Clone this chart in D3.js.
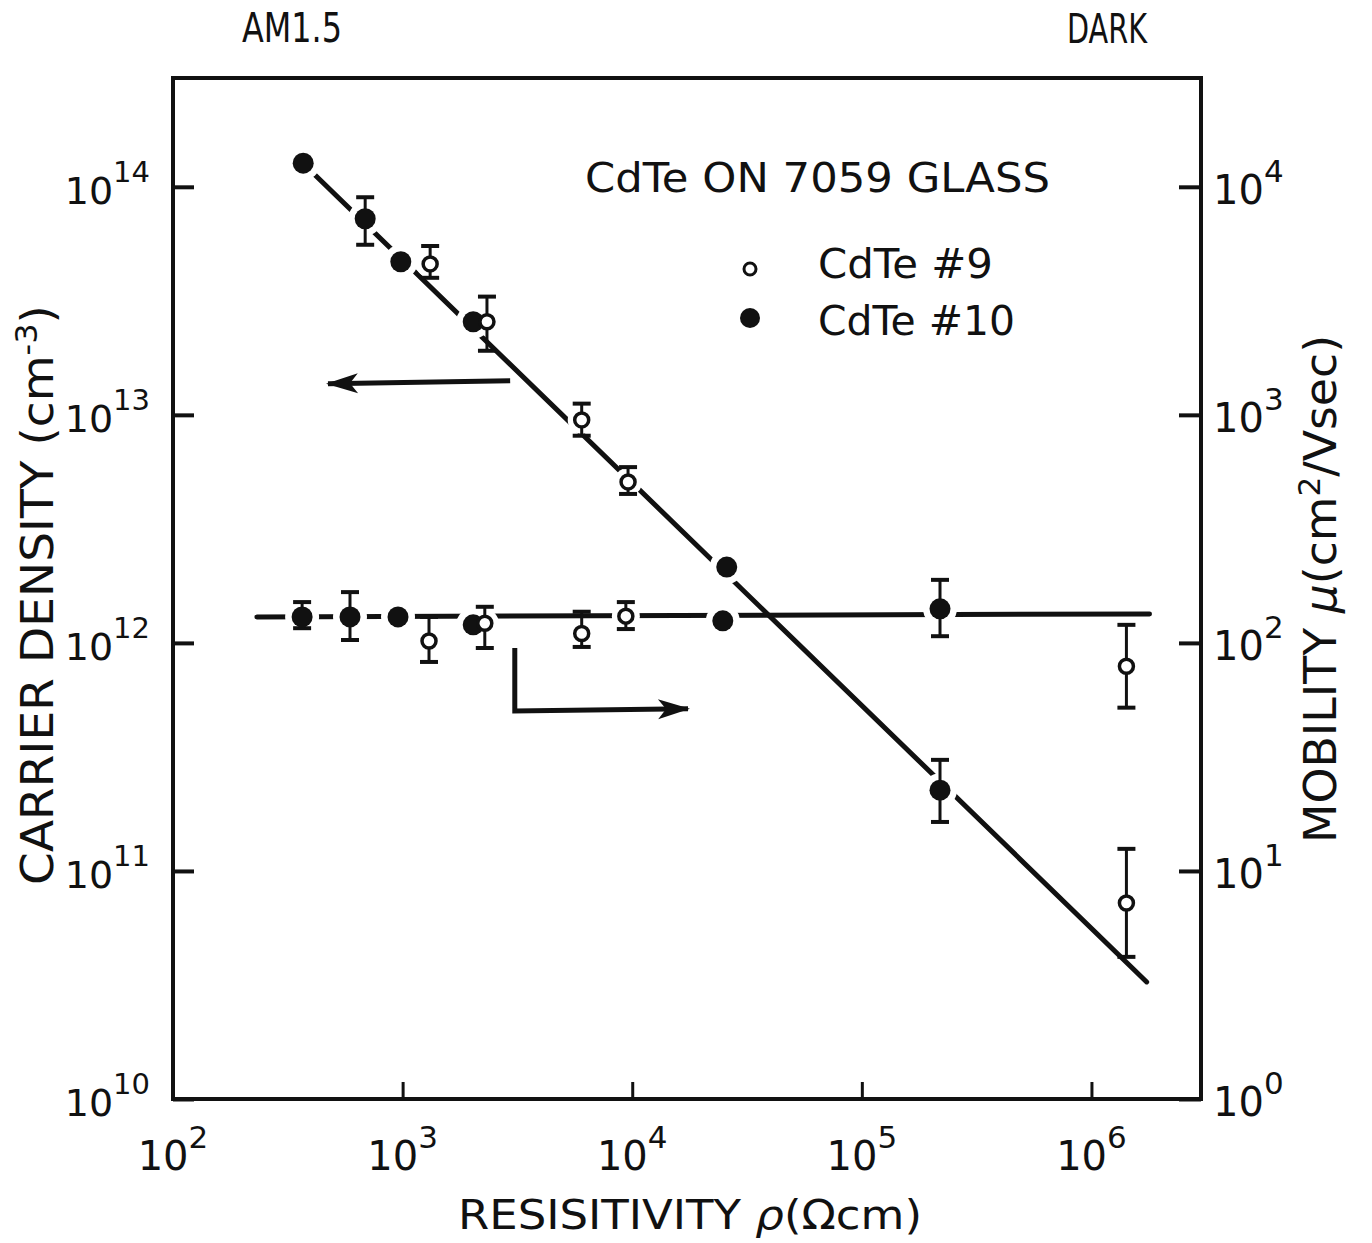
<!DOCTYPE html>
<html>
<head>
<meta charset="utf-8">
<script src="https://cdn.jsdelivr.net/npm/d3@7"></script>
<style>
body { margin: 0; background: #fff; }
svg { display: block; background: #fff; }
text { font-family: "DejaVu Sans", sans-serif; fill: #111; }
</style>
</head>
<body>
<svg id="chart" width="1372" height="1243"></svg>
<script>
// ---- data ----
var rhoTicks = [1e2, 1e3, 1e4, 1e5, 1e6];
var densityTicks = [1e10, 1e11, 1e12, 1e13, 1e14];
var mobilityTicks = [1, 10, 100, 1000, 10000];

// carrier density, CdTe #10 (filled) and #9 (open)
var densityRho10 = [369, 687, 982, 2030, 25800, 219000];
var density10 = [1.27e14, 7.24e13, 4.69e13, 2.56e13, 2.15e12, 2.26e11];
var density10Hi = [null, 9.0e13, null, null, null, 3.07e11];
var density10Lo = [null, 5.57e13, null, null, null, 1.64e11];

var densityRho9 = [1318, 2330, 6025, 9590, 1420000];
var density9 = [4.59e13, 2.56e13, 9.5e12, 5.08e12, 7.24e10];
var density9Hi = [5.5e13, 3.3e13, 1.12e13, 5.9e12, 1.25e11];
var density9Lo = [3.99e13, 1.91e13, 8.1e12, 4.5e12, 4.2e10];

// mobility, CdTe #10 (filled) and #9 (open)
var mobilityRho10 = [365, 590, 955, 2030, 24800, 219000];
var mobility10 = [130, 130, 130, 120, 125, 141];
var mobility10Hi = [151, 167, null, null, null, 189];
var mobility10Lo = [116, 103, null, null, null, 107];

var mobilityRho9 = [1303, 2280, 6025, 9380, 1420000];
var mobility9 = [102, 122, 110, 131, 79];
var mobility9Hi = [130, 144, 137, 151, 120];
var mobility9Lo = [82.5, 95, 96, 115, 52];

// hand drawn fit lines
var densityFitRho = [407, 1740000];
var densityFit = [1.15e14, 3.26e10];
var mobilityFitRho = [232, 1790000];
var mobilityFit = [130, 134];

// arrows telling which axis each line belongs to
var leftArrowRho = [2940, 473];
var leftArrowN = [1.41e13, 1.37e13];
var rightArrowRho = [3080, 3080, 17500];
var rightArrowMu = [95, 50.3, 51.4];

// ---- layout ----
var W = 1372, H = 1243;
var margin = {top: 78, right: 171, bottom: 144, left: 173};
var svg = d3.select("#chart");

var x = d3.scaleLog().domain([100, 3e6]).range([margin.left, W - margin.right]);
var yN = d3.scaleLog().domain([1e10, 3e14]).range([H - margin.bottom, margin.top]);
var yMu = d3.scaleLog().domain([1, 3e4]).range([H - margin.bottom, margin.top]);

// arrow head
svg.append("defs").append("marker")
  .attr("id", "head")
  .attr("markerUnits", "userSpaceOnUse")
  .attr("viewBox", "-32 -12 34 24")
  .attr("markerWidth", 34).attr("markerHeight", 24)
  .attr("refX", 0).attr("refY", 0)
  .attr("orient", "auto")
  .append("path")
  .attr("d", "M2,0 L-30,-10 L-22,0 L-30,10 Z")
  .attr("fill", "#111");

// frame
svg.append("rect")
  .attr("x", x(100)).attr("y", yN(3e14))
  .attr("width", x(3e6) - x(100)).attr("height", yN(1e10) - yN(3e14))
  .attr("fill", "none").attr("stroke", "#111").attr("stroke-width", 4);

// axes, ticks pointing inward
function styleAxis(g, w) {
  g.select(".domain").remove();
  g.selectAll("line").attr("stroke", "#111").attr("stroke-width", w);
}
svg.append("g").attr("transform", "translate(0," + (H - margin.bottom) + ")")
  .call(d3.axisBottom(x).tickValues(rhoTicks).tickSize(-17).tickSizeOuter(0).tickFormat(""))
  .call(styleAxis, 3);
svg.append("g").attr("transform", "translate(" + margin.left + ",0)")
  .call(d3.axisLeft(yN).tickValues(densityTicks).tickSize(-21).tickSizeOuter(0).tickFormat(""))
  .call(styleAxis, 4);
svg.append("g").attr("transform", "translate(" + (W - margin.right) + ",0)")
  .call(d3.axisRight(yMu).tickValues(mobilityTicks).tickSize(-22).tickSizeOuter(0).tickFormat(""))
  .call(styleAxis, 4);

// 10^n labels
function powLabel(v, px, py, anchor, fs) {
  var t = svg.append("text")
    .attr("x", px).attr("y", py)
    .attr("text-anchor", anchor)
    .attr("font-family", "Liberation Sans")
    .attr("font-size", fs);
  t.append("tspan").text("10");
  t.append("tspan").attr("dy", -22).attr("font-size", fs - 9).text(Math.round(Math.log10(v)));
}
rhoTicks.forEach(function(v) { powLabel(v, x(v), H - margin.bottom + 71, "middle", 40); });
densityTicks.forEach(function(v) { powLabel(v, 150, yN(v) + 17, "end", 38); });
mobilityTicks.forEach(function(v) { powLabel(v, W - margin.right + 12, yMu(v) + 17, "start", 40); });

// axis titles
var bt = svg.append("text")
  .attr("x", 690).attr("y", 1229)
  .attr("text-anchor", "middle").attr("font-size", 41)
  .attr("textLength", 464).attr("lengthAdjust", "spacingAndGlyphs");
bt.append("tspan").text("RESISITIVITY ");
bt.append("tspan").attr("font-style", "italic").text("ρ");
bt.append("tspan").text("(Ωcm)");

var lt = svg.append("text")
  .attr("transform", "translate(53,595) rotate(-90)")
  .attr("text-anchor", "middle").attr("font-size", 44)
  .attr("textLength", 580).attr("lengthAdjust", "spacingAndGlyphs");
lt.append("tspan").text("CARRIER DENSITY (cm");
lt.append("tspan").attr("dy", -16).attr("font-size", 30).text("-3");
lt.append("tspan").attr("dy", 16).text(")");

var rt = svg.append("text")
  .attr("transform", "translate(1336,589) rotate(-90)")
  .attr("text-anchor", "middle").attr("font-size", 44)
  .attr("textLength", 508).attr("lengthAdjust", "spacingAndGlyphs");
rt.append("tspan").text("MOBILITY  ");
rt.append("tspan").attr("font-style", "italic").text("μ");
rt.append("tspan").text("(cm");
rt.append("tspan").attr("dy", -16).attr("font-size", 30).text("2");
rt.append("tspan").attr("dy", 16).text("/Vsec)");

// AM1.5 / DARK at the top
svg.append("text").attr("x", 242).attr("y", 42).attr("font-size", 40)
  .attr("font-family", "DejaVu Sans Mono")
  .attr("textLength", 100).attr("lengthAdjust", "spacingAndGlyphs").text("AM1.5");
svg.append("text").attr("x", 1067).attr("y", 43).attr("font-size", 40)
  .attr("font-family", "DejaVu Sans Mono")
  .attr("textLength", 80).attr("lengthAdjust", "spacingAndGlyphs").text("DARK");

// legend
svg.append("text").attr("x", 585).attr("y", 192).attr("font-size", 41)
  .attr("textLength", 465).attr("lengthAdjust", "spacingAndGlyphs").text("CdTe ON 7059 GLASS");
svg.append("circle").attr("cx", 750).attr("cy", 269).attr("r", 6)
  .attr("fill", "#fff").attr("stroke", "#111").attr("stroke-width", 3);
svg.append("text").attr("x", 818).attr("y", 278).attr("font-size", 41)
  .attr("textLength", 175).attr("lengthAdjust", "spacingAndGlyphs").text("CdTe #9");
svg.append("circle").attr("cx", 750).attr("cy", 318).attr("r", 10).attr("fill", "#111");
svg.append("text").attr("x", 818).attr("y", 335).attr("font-size", 41)
  .attr("textLength", 197).attr("lengthAdjust", "spacingAndGlyphs").text("CdTe #10");

// fit lines
var lineN = d3.line().x(function(d) { return x(d[0]); }).y(function(d) { return yN(d[1]); });
var lineMu = d3.line().x(function(d) { return x(d[0]); }).y(function(d) { return yMu(d[1]); });

svg.append("path").attr("d", lineN(d3.zip(densityFitRho, densityFit)))
  .attr("fill", "none").attr("stroke", "#111").attr("stroke-width", 5).attr("stroke-linecap", "round");
svg.append("path").attr("d", lineMu(d3.zip(mobilityFitRho, mobilityFit)))
  .attr("fill", "none").attr("stroke", "#111").attr("stroke-width", 5).attr("stroke-linecap", "round");

// arrows
svg.append("path").attr("d", lineN(d3.zip(leftArrowRho, leftArrowN)))
  .attr("fill", "none").attr("stroke", "#111").attr("stroke-width", 5).attr("marker-end", "url(#head)");
svg.append("path").attr("d", lineMu(d3.zip(rightArrowRho, rightArrowMu)))
  .attr("fill", "none").attr("stroke", "#111").attr("stroke-width", 5).attr("marker-end", "url(#head)");

// build point lists
function pts(rho, v, hi, lo, yScale, filled) {
  return rho.map(function(r, i) {
    return {x: x(r), y: yScale(v[i]),
            hi: hi[i] == null ? null : yScale(hi[i]),
            lo: lo[i] == null ? null : yScale(lo[i]),
            filled: filled};
  });
}
var allPts = [].concat(
  pts(densityRho10, density10, density10Hi, density10Lo, yN, true),
  pts(densityRho9, density9, density9Hi, density9Lo, yN, false),
  pts(mobilityRho10, mobility10, mobility10Hi, mobility10Lo, yMu, true),
  pts(mobilityRho9, mobility9, mobility9Hi, mobility9Lo, yMu, false)
);

// white halo so the hand drawn line stops short of the marks
svg.append("g").selectAll("circle").data(allPts).enter().append("circle")
  .attr("cx", function(d) { return d.x; }).attr("cy", function(d) { return d.y; })
  .attr("r", function(d) { return d.filled ? 17 : 14; })
  .attr("fill", "#fff");

// error bars
var eb = svg.append("g").selectAll("g").data(allPts.filter(function(d) { return d.hi != null; }))
  .enter().append("g").attr("stroke", "#111");
eb.append("line")
  .attr("x1", function(d) { return d.x; }).attr("x2", function(d) { return d.x; })
  .attr("y1", function(d) { return d.hi; }).attr("y2", function(d) { return d.lo; })
  .attr("stroke-width", 3);
eb.append("line")
  .attr("x1", function(d) { return d.x - 9; }).attr("x2", function(d) { return d.x + 9; })
  .attr("y1", function(d) { return d.hi; }).attr("y2", function(d) { return d.hi; })
  .attr("stroke-width", 4);
eb.append("line")
  .attr("x1", function(d) { return d.x - 9; }).attr("x2", function(d) { return d.x + 9; })
  .attr("y1", function(d) { return d.lo; }).attr("y2", function(d) { return d.lo; })
  .attr("stroke-width", 4);

// markers
svg.append("g").selectAll("circle").data(allPts).enter().append("circle")
  .attr("cx", function(d) { return d.x; }).attr("cy", function(d) { return d.y; })
  .attr("r", function(d) { return d.filled ? 10.5 : 7; })
  .attr("fill", function(d) { return d.filled ? "#111" : "#fff"; })
  .attr("stroke", "#111")
  .attr("stroke-width", function(d) { return d.filled ? 0 : 3.5; });
</script>
</body>
</html>
